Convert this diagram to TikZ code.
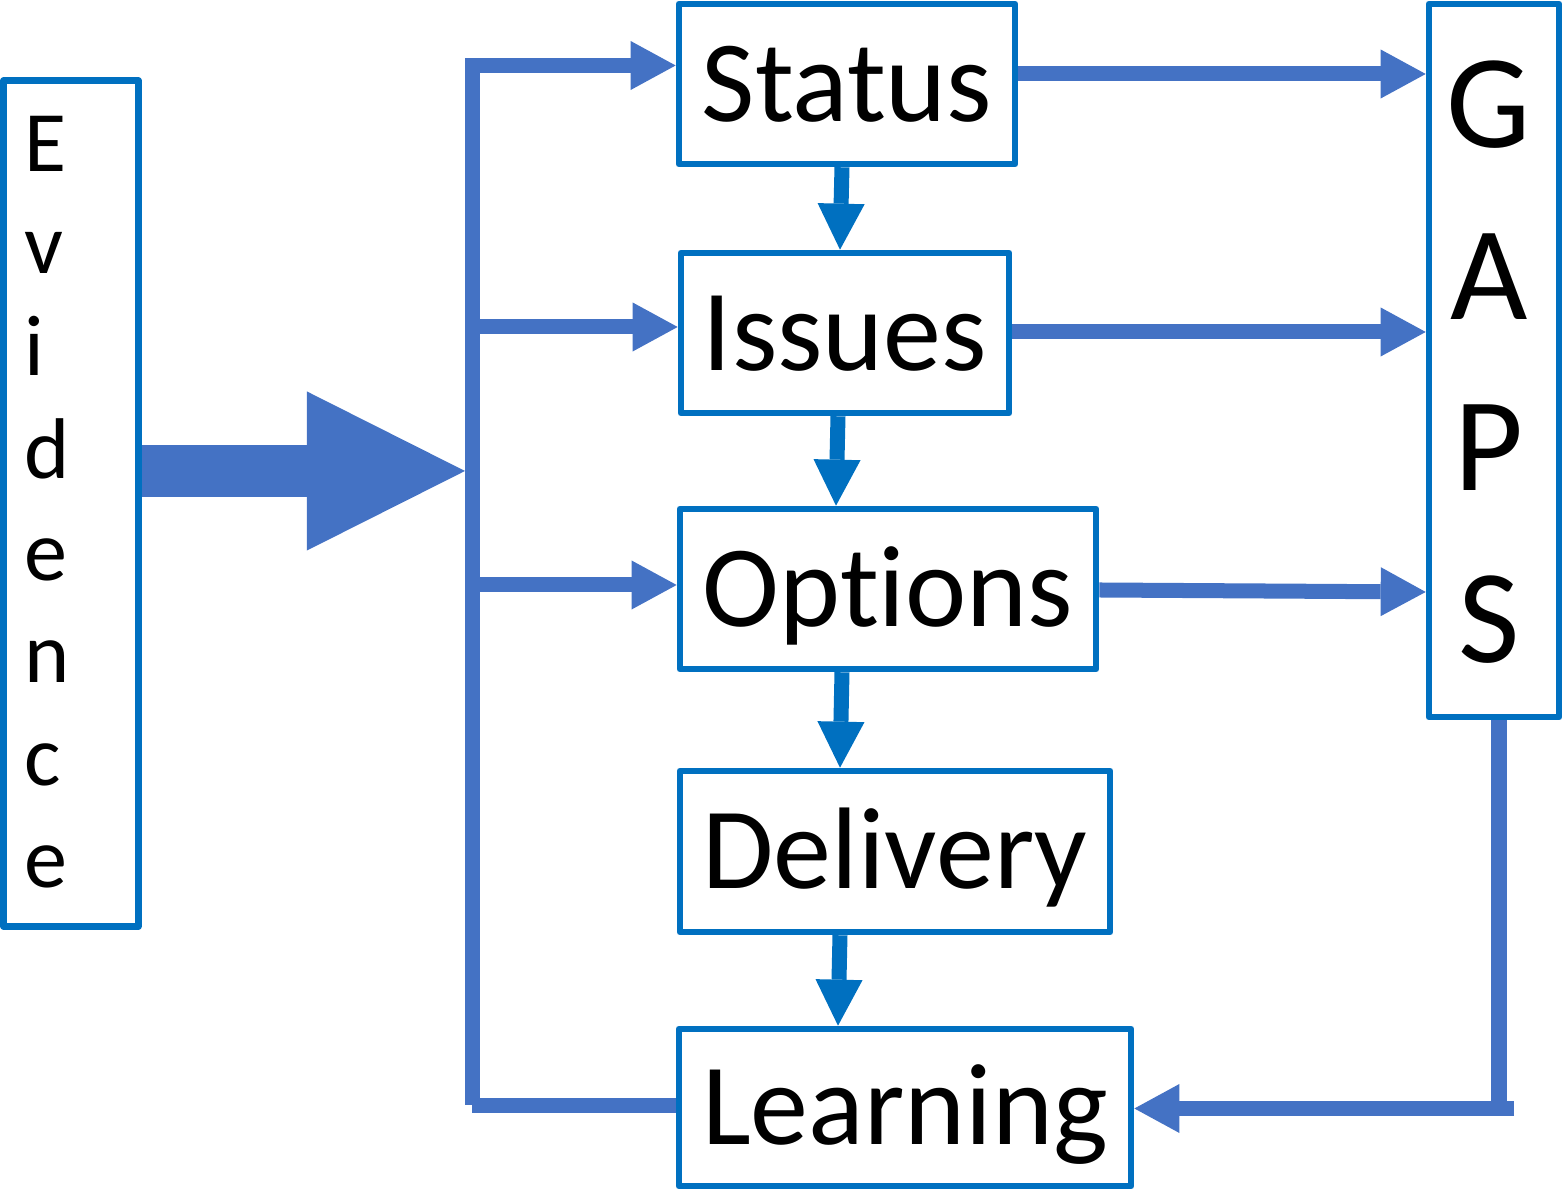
\documentclass[tikz,border=0pt]{standalone}
\usepackage{fontspec}
\setmainfont{Carlito}[RawFeature={-liga;-clig}]
\usetikzlibrary{arrows.meta,calc}
\definecolor{boxblue}{HTML}{0070C0}
\definecolor{arrblue}{HTML}{4472C4}
\begin{document}
\begin{tikzpicture}[x=0.01cm,y=-0.01cm,
  box/.style={draw=boxblue, line width=0.065cm, line join=round, inner sep=0pt,
    text height=0.74cm, text depth=0pt, font=\fontsize{33}{36}\selectfont},
  conn/.style={draw=arrblue, line width=0.15cm,
    -{Triangle[length=0.45cm,width=0.49cm,line width=0pt]}},
  downarr/.style={draw=boxblue, line width=0.15cm,
    -{Triangle[length=0.46cm,width=0.47cm,line width=0pt]}},
  busline/.style={draw=arrblue, line width=0.15cm}
]
\useasboundingbox (0,0) rectangle (1562,1189);

% boxes
\node[box, minimum width=1.345cm, minimum height=8.455cm] (evidence) at (71,503.5) {};
\node[font=\fontsize{24.5}{29.1}\selectfont, align=left, anchor=west, inner sep=0pt] (evtext) at (24,502) {E\\v\\i\\d\\e\\n\\c\\e};
\node[box, minimum width=3.36cm, minimum height=1.6cm] (status) at (847,84) {Status};
\node[box, minimum width=3.28cm, minimum height=1.6cm] (issues) at (845,333) {Issues};
\node[box, minimum width=4.16cm, minimum height=1.6cm] (options) at (888,589) {Options};
\node[box, minimum width=4.30cm, minimum height=1.61cm] (delivery) at (895,851.5) {Delivery};
\node[box, minimum width=4.52cm, minimum height=1.57cm] (learning) at (905,1107.5) {Learning};
\node[box, minimum width=1.30cm, minimum height=7.13cm] (gaps) at (1494,360.5) {};
\node[font=\fontsize{38}{48.8}\selectfont, align=center, inner sep=0pt] (gapstext) at (1489,362) {G\\A\\P\\S};

% big block arrow into the bus
\coordinate (bigtip) at (465,471);
\draw[draw=arrblue, line width=0.52cm, -{Triangle[length=1.58cm,width=1.59cm,line width=0pt]}]
  (evidence.east |- bigtip) -- (bigtip);

% bus
\coordinate (btop) at (472.5,63);
\coordinate (bbot) at (472.5,1105.5);
\coordinate (bstatus) at (465,65.5);
\coordinate (bissues) at (480,327);
\coordinate (boptions) at (480,585);
\coordinate (blearn) at (472,1105.5);
\draw[busline] (btop) -- (bbot);
\draw[conn] (bstatus) -- (status.west |- bstatus);
\draw[conn] (bissues) -- (issues.west |- bissues);
\draw[conn] (boptions) -- (options.west |- boptions);
\draw[busline] (blearn) -- (learning.west |- blearn);

% to GAPS
\draw[conn] (status.east |- 0,74) -- (gaps.west |- 0,74);
\draw[conn] (issues.east |- 0,332) -- (gaps.west |- 0,332);
\draw[conn] (options.east |- 0,590) -- (gaps.west |- 0,592);

% GAPS back to Learning
\coordinate (gc) at (1499,1108.5);
\coordinate (gr) at (1514,1108.5);
\draw[busline] (gaps.south -| gc) -- (gc);
\draw[conn] (gr) -- (learning.east |- gr);

% downward chain
\draw[downarr] (842,0 |- status.south) -- (840,0 |- issues.north);
\draw[downarr] (838,0 |- issues.south) -- (836,0 |- options.north);
\draw[downarr] (842,0 |- options.south) -- (840,0 |- delivery.north);
\draw[downarr] (840,0 |- delivery.south) -- (838,0 |- learning.north);
\end{tikzpicture}
\end{document}
